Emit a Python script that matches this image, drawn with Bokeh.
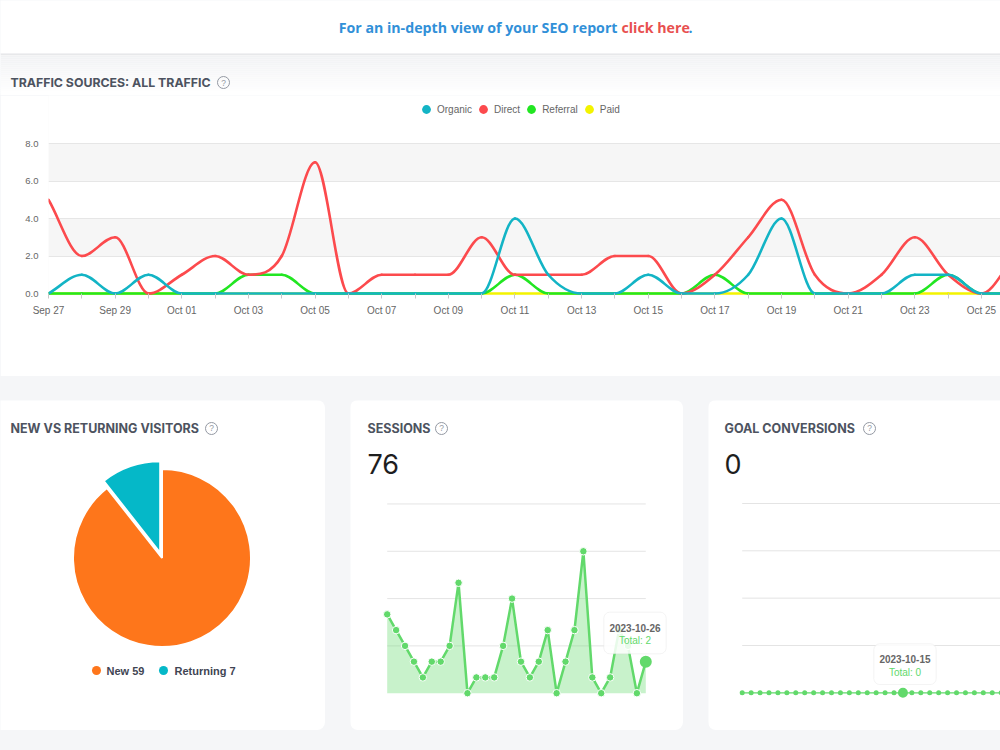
import numpy as np
import pandas as pd
from bokeh.plotting import figure
from bokeh.models import (ColumnDataSource, Range1d, FixedTicker, PrintfTickFormatter,
                          Legend, LegendItem, BoxAnnotation, Spacer)
from bokeh.layouts import column, row
from bokeh.core.properties import value
from bokeh.embed import file_html
from bokeh.resources import INLINE

# ---------------- data ----------------
dates = pd.date_range("2023-09-27", periods=30, freq="D")
day_idx = list(range(len(dates)))
day_labels = [d.strftime("%b %d") for d in dates]
iso_dates = [d.strftime("%Y-%m-%d") for d in dates]

traffic_names = ["Organic", "Direct", "Referral", "Paid"]
organic = [0, 1, 0, 1, 0, 0, 0, 0, 0, 0, 0, 0, 0, 0, 4, 1, 0, 0, 1, 0, 0, 1, 4, 0, 0, 0, 1, 1, 0, 0]
direct = [5, 2, 3, 0, 1, 2, 1, 2, 7, 0, 1, 1, 1, 3, 1, 1, 1, 2, 2, 0, 1, 3, 5, 1, 0, 1, 3, 1, 0, 2]
referral = [0, 0, 0, 0, 0, 0, 1, 1, 0, 0, 0, 0, 0, 0, 1, 0, 0, 0, 0, 0, 1, 0, 0, 0, 0, 0, 0, 1, 0, 0]
paid = [0] * 30
traffic_colors = ["#13b4c5", "#fc4a4d", "#22e622", "#f3f300"]
traffic_y_ticks = [0, 2, 4, 6, 8]

visitor_labels = ["New", "Returning"]
visitor_counts = [59, 7]
visitor_colors = ["#fe761b", "#05b8c8"]

sessions = [5, 4, 3, 2, 1, 2, 2, 3, 7, 0, 1, 1, 1, 3, 6, 2, 1, 2, 4, 0, 2, 4, 9, 1, 0, 1, 4, 3, 0, 2]
sessions_grid = [3, 6, 9, 12]
sessions_hover = 29

goal_conversions = [0] * 30
goals_grid = [0.25, 0.5, 0.75, 1.0]
goals_hover = 18

# ---------------- styling ----------------
BG = "#f5f6f8"
TITLE_C = "#4d5360"
ICON_C = "#9499a3"
TICK_C = "#666666"
GREEN = "#62d96b"
UI_FONT = "Inter"
CHART_FONT = "Liberation Sans"
BANNER_FONT = "Open Sans"
CARD_H = 330


def bare(width, height, x_range, y_range, **kw):
    p = figure(width=width, height=height, x_range=x_range, y_range=y_range,
               x_axis_type=None, y_axis_type=None, toolbar_location=None,
               output_backend="svg", min_border=0, outline_line_color=None,
               background_fill_color="white", border_fill_color="white",
               frame_align=False, **kw)
    return p


def monotone_segments(xs, ys, ymin, ymax):
    """Monotone cubic (Fritsch-Carlson) bezier segments through the points."""
    n = len(xs)
    delta = [(ys[i + 1] - ys[i]) / (xs[i + 1] - xs[i]) for i in range(n - 1)]
    m = [0.0] * n
    for i in range(n):
        if i == 0:
            m[i] = delta[0]
        elif i == n - 1:
            m[i] = delta[-1]
        elif np.sign(delta[i - 1]) != np.sign(delta[i]):
            m[i] = 0.0
        else:
            m[i] = (delta[i - 1] + delta[i]) / 2
    for i in range(n - 1):
        if abs(delta[i]) < 1e-9:
            m[i] = m[i + 1] = 0.0
            continue
        a, b = m[i] / delta[i], m[i + 1] / delta[i]
        mag = a * a + b * b
        if mag <= 9:
            continue
        tau = 3 / np.sqrt(mag)
        m[i], m[i + 1] = a * tau * delta[i], b * tau * delta[i]
    clampy = lambda v: min(max(v, ymin), ymax)
    seg = dict(x0=[], y0=[], x1=[], y1=[], cx0=[], cy0=[], cx1=[], cy1=[])
    for i in range(n - 1):
        h = (xs[i + 1] - xs[i]) / 3
        seg["x0"].append(xs[i]); seg["y0"].append(ys[i])
        seg["x1"].append(xs[i + 1]); seg["y1"].append(ys[i + 1])
        seg["cx0"].append(xs[i] + h); seg["cy0"].append(clampy(ys[i] + h * m[i]))
        seg["cx1"].append(xs[i + 1] - h); seg["cy1"].append(clampy(ys[i + 1] - h * m[i + 1]))
    return seg


# ---------------- banner ----------------
banner = bare(1000, 53, Range1d(0, 1000), Range1d(53, 0))
common_banner = dict(text_baseline="middle", text_font=value(BANNER_FONT),
                     text_font_size="14.2px", text_font_style="bold")
banner.text(x=[617], y=[27], text=["For an in-depth view of your SEO report"],
            text_align="right", text_color="#3190d8", **common_banner)
banner.text(x=[621], y=[27], text=["click here"], text_align="left",
            text_color="#e8504f", **common_banner)
banner.text(x=[688], y=[27], text=["."], text_align="left",
            text_color="#3190d8", **common_banner)

# ---------------- traffic header ----------------
head = bare(1000, 42, Range1d(0, 1000), Range1d(42, 0))
n_shade = 20
shade = np.linspace(0, 1, n_shade)
shade_cols = ["#%02x%02x%02x" % (int(241 + 14 * s), int(242 + 13 * s), int(244 + 11 * s)) for s in shade]
head.quad(left=0, right=1000, top=[k * 2.0 for k in range(n_shade)],
          bottom=[k * 2.0 + 2.0 for k in range(n_shade)], fill_color=shade_cols, line_color=None)
head.segment(x0=[0], x1=[1000], y0=[0.6], y1=[0.6], line_color="#e3e4e7", line_width=1.5)
head.text(x=[10], y=[29], text=["TRAFFIC SOURCES: ALL TRAFFIC"], text_baseline="middle",
          text_font=value(UI_FONT), text_font_style="bold", text_font_size="12.3px",
          text_color=TITLE_C)
head.scatter(x=[223], y=[29], size=12, marker="circle", fill_color=None,
             line_color=ICON_C, line_width=1)
head.text(x=[223], y=[29.5], text=["?"], text_align="center", text_baseline="middle",
          text_font=value(CHART_FONT), text_font_size="8.5px", text_color=ICON_C)

# ---------------- traffic chart ----------------
PX_DAY = 33.32
PX_UNIT = 18.75
FRAME_W, FRAME_H = 952, 200
y_lo = -2 / PX_UNIT
x_hi = FRAME_W / PX_DAY
tx = figure(width=1000, height=281,
            x_range=Range1d(0, x_hi),
            y_range=Range1d(y_lo, y_lo + FRAME_H / PX_UNIT),
            toolbar_location=None, output_backend="svg", frame_align=False,
            min_border_left=48, min_border_right=0, min_border_top=0, min_border_bottom=81,
            outline_line_color=None, background_fill_color="white", border_fill_color="white")

tx.xaxis.ticker = FixedTicker(ticks=day_idx, minor_ticks=[])
tx.xaxis.major_label_overrides = {i: (lab if i % 2 == 0 else "") for i, lab in enumerate(day_labels)}
tx.xaxis.axis_line_color = None
tx.xaxis.major_tick_in = 2
tx.xaxis.major_tick_out = 3
tx.xaxis.major_tick_line_color = "#c8c8c8"
tx.xaxis.major_label_standoff = 6
tx.xaxis.major_label_text_font = CHART_FONT
tx.xaxis.major_label_text_font_size = "10px"
tx.xaxis.major_label_text_color = TICK_C

tx.yaxis.ticker = FixedTicker(ticks=traffic_y_ticks, minor_ticks=[])
tx.yaxis.formatter = PrintfTickFormatter(format="%.1f")
tx.yaxis.axis_line_color = None
tx.yaxis.major_tick_in = 0
tx.yaxis.major_tick_out = 0
tx.yaxis.major_label_standoff = 10
tx.yaxis.major_label_text_font = CHART_FONT
tx.yaxis.major_label_text_font_size = "9.5px"
tx.yaxis.major_label_text_color = TICK_C

tx.xgrid.grid_line_color = None
tx.ygrid.ticker = FixedTicker(ticks=traffic_y_ticks, minor_ticks=[])
tx.ygrid.grid_line_color = "#e6e6e6"

# alternating shaded bands between every other pair of y ticks
tx.quad(left=0, right=day_idx[-1], bottom=traffic_y_ticks[1:-1:2], top=traffic_y_ticks[2::2],
        fill_color="#f6f6f6", line_color=None, level="underlay")

series = list(zip(traffic_names, [organic, direct, referral, paid], traffic_colors))
ymax = traffic_y_ticks[-1]
for name, ys, color in reversed(series):
    segs = monotone_segments(day_idx, ys, 0, ymax)
    tx.bezier(x0="x0", y0="y0", x1="x1", y1="y1", cx0="cx0", cy0="cy0", cx1="cx1", cy1="cy1",
              source=ColumnDataSource(segs), line_color=color, line_width=2.6, line_cap="round")

legend_items = []
for name, ys, color in series:
    r = tx.scatter(x=day_idx, y=ys, size=0, marker="circle", fill_color=color, line_color=None)
    legend_items.append(LegendItem(label=name, renderers=[r]))
legend = Legend(items=legend_items, location=(367, 175), orientation="horizontal",
                glyph_width=22, glyph_height=22, label_height=22, label_standoff=-3, spacing=0,
                padding=0, margin=0, border_line_color=None, background_fill_alpha=0,
                label_text_font=CHART_FONT, label_text_font_size="10px",
                label_text_color=TICK_C)
tx.add_layout(legend)


# ---------------- cards ----------------
def card(width, corners):
    return bare(width, CARD_H, Range1d(0, width), Range1d(0, CARD_H),
                styles={"border-radius": corners, "overflow": "hidden"})


def card_title(p, x, text, icon_x):
    y = CARD_H - 28
    p.text(x=[x], y=[y], text=[text], text_baseline="middle", text_font=value(UI_FONT),
           text_font_style="bold", text_font_size="12.5px", text_color=TITLE_C)
    p.scatter(x=[icon_x], y=[y], size=12, marker="circle", fill_color=None,
              line_color=ICON_C, line_width=1)
    p.text(x=[icon_x], y=[y + 0.5], text=["?"], text_align="center", text_baseline="middle",
           text_font=value(CHART_FONT), text_font_size="8.5px", text_color=ICON_C)


def big_number(p, x, text):
    p.text(x=[x], y=[CARD_H - 63], text=[text], text_baseline="middle",
           text_font=value(UI_FONT), text_font_size="27px", text_color="#1e1e1e")


def tooltip(p, left, right, top, bottom, title, body):
    p.add_layout(BoxAnnotation(left=left, right=right, top=top, bottom=bottom,
                               fill_color="white", fill_alpha=0.85, line_color="#dcdcdc",
                               line_width=1, border_radius=6))
    cx = (left + right) / 2
    p.text(x=[cx], y=[top - 15.5], text=[title], text_align="center", text_baseline="middle",
           text_font=value(CHART_FONT), text_font_style="bold", text_font_size="10px",
           text_color="#666666", level="overlay")
    p.text(x=[cx], y=[top - 28.5], text=[body], text_align="center", text_baseline="middle",
           text_font=value(CHART_FONT), text_font_size="10px", text_color=GREEN,
           level="overlay")


def data_ranges(p, width, x0px, px_per_day, y0px, px_per_unit):
    p.extra_x_ranges = {"d": Range1d(-x0px / px_per_day, (width - x0px) / px_per_day)}
    p.extra_y_ranges = {"v": Range1d(-y0px / px_per_unit, (CARD_H - y0px) / px_per_unit)}


# --- new vs returning visitors ---
pie_card = card(325, "0 8px 8px 0")
card_title(pie_card, 10, "NEW VS RETURNING VISITORS", 211)
total_visitors = sum(visitor_counts)
frac = np.array(visitor_counts) / total_visitors
ends = 90 - 360 * np.cumsum(frac)
starts = ends + 360 * frac
pie_cx, pie_cy = 161.5, CARD_H - 157.5
explode = [0, 5.5]
radius = [89, 91.5]
mid = np.radians((starts + ends) / 2)
pie_src = ColumnDataSource(dict(
    x=[pie_cx + e * np.cos(m) for e, m in zip(explode, mid)],
    y=[pie_cy + e * np.sin(m) for e, m in zip(explode, mid)],
    r=radius, start=np.radians(starts), end=np.radians(ends), color=visitor_colors))
pie_card.wedge(x="x", y="y", radius="r", start_angle="start", end_angle="end",
               direction="clock", fill_color="color", line_color="white", line_width=2,
               source=pie_src)
leg_y = CARD_H - 270
pie_card.scatter(x=[96, 163], y=[leg_y, leg_y], size=9, marker="circle",
                 fill_color=visitor_colors, line_color=None)
pie_card.text(x=[106, 174], y=[leg_y, leg_y],
              text=[f"{lab} {cnt}" for lab, cnt in zip(visitor_labels, visitor_counts)],
              text_baseline="middle", text_font=value(CHART_FONT), text_font_style="bold",
              text_font_size="11px", text_color="#3f4553")

# --- sessions ---
sess_card = card(333, "8px")
card_title(sess_card, 17, "SESSIONS", 91)
big_number(sess_card, 17, str(sum(sessions)))
data_ranges(sess_card, 333, 36.7, 8.917, 37.3, 15.77)
kw = dict(x_range_name="d", y_range_name="v")
sess_card.segment(x0=0, x1=day_idx[-1], y0=sessions_grid, y1=sessions_grid,
                  line_color="#e4e4e4", line_width=1, **kw)
sess_card.varea(x=day_idx, y1=0, y2=sessions, fill_color=GREEN, fill_alpha=0.35, **kw)
sess_card.line(x=day_idx, y=sessions, line_color=GREEN, line_width=2.5, **kw)
sess_card.scatter(x=day_idx[:sessions_hover], y=sessions[:sessions_hover], size=7.5,
                  marker="circle", fill_color=GREEN, line_color="white", line_width=1, **kw)
sess_card.scatter(x=[day_idx[sessions_hover]], y=[sessions[sessions_hover]], size=12,
                  marker="circle", fill_color=GREEN, line_color=None, **kw)
tooltip(sess_card, 253.3, 315.7, CARD_H - 211.7, CARD_H - 253.3,
        iso_dates[sessions_hover], f"Total: {sessions[sessions_hover]}")

# --- goal conversions ---
goal_card = card(292, "8px 0 0 8px")
card_title(goal_card, 16, "GOAL CONVERSIONS", 161)
big_number(goal_card, 16, str(sum(goal_conversions)))
data_ranges(goal_card, 292, 33.7, 8.93, 37.7, 189.3)
goal_card.segment(x0=0, x1=day_idx[-1] + 1, y0=goals_grid, y1=goals_grid,
                  line_color="#e4e4e4", line_width=1, **kw)
goal_card.line(x=day_idx, y=goal_conversions, line_color=GREEN, line_width=1.2, **kw)
goal_card.scatter(x=day_idx, y=goal_conversions, size=5, marker="circle",
                  fill_color=GREEN, line_color=None, **kw)
goal_card.scatter(x=[day_idx[goals_hover]], y=[goal_conversions[goals_hover]], size=10,
                  marker="circle", fill_color=GREEN, line_color=None, **kw)
tooltip(goal_card, 165.3, 227.7, CARD_H - 243.3, CARD_H - 284,
        iso_dates[goals_hover], f"Total: {goal_conversions[goals_hover]}")

# ---------------- page ----------------
cards = row(pie_card, sess_card, goal_card, spacing=25)
page = column(banner, head, tx, Spacer(width=1000, height=24), cards,
              Spacer(width=1000, height=20), styles={"background-color": BG})

with open("out.html", "w") as f:
    f.write(file_html(page, INLINE))
